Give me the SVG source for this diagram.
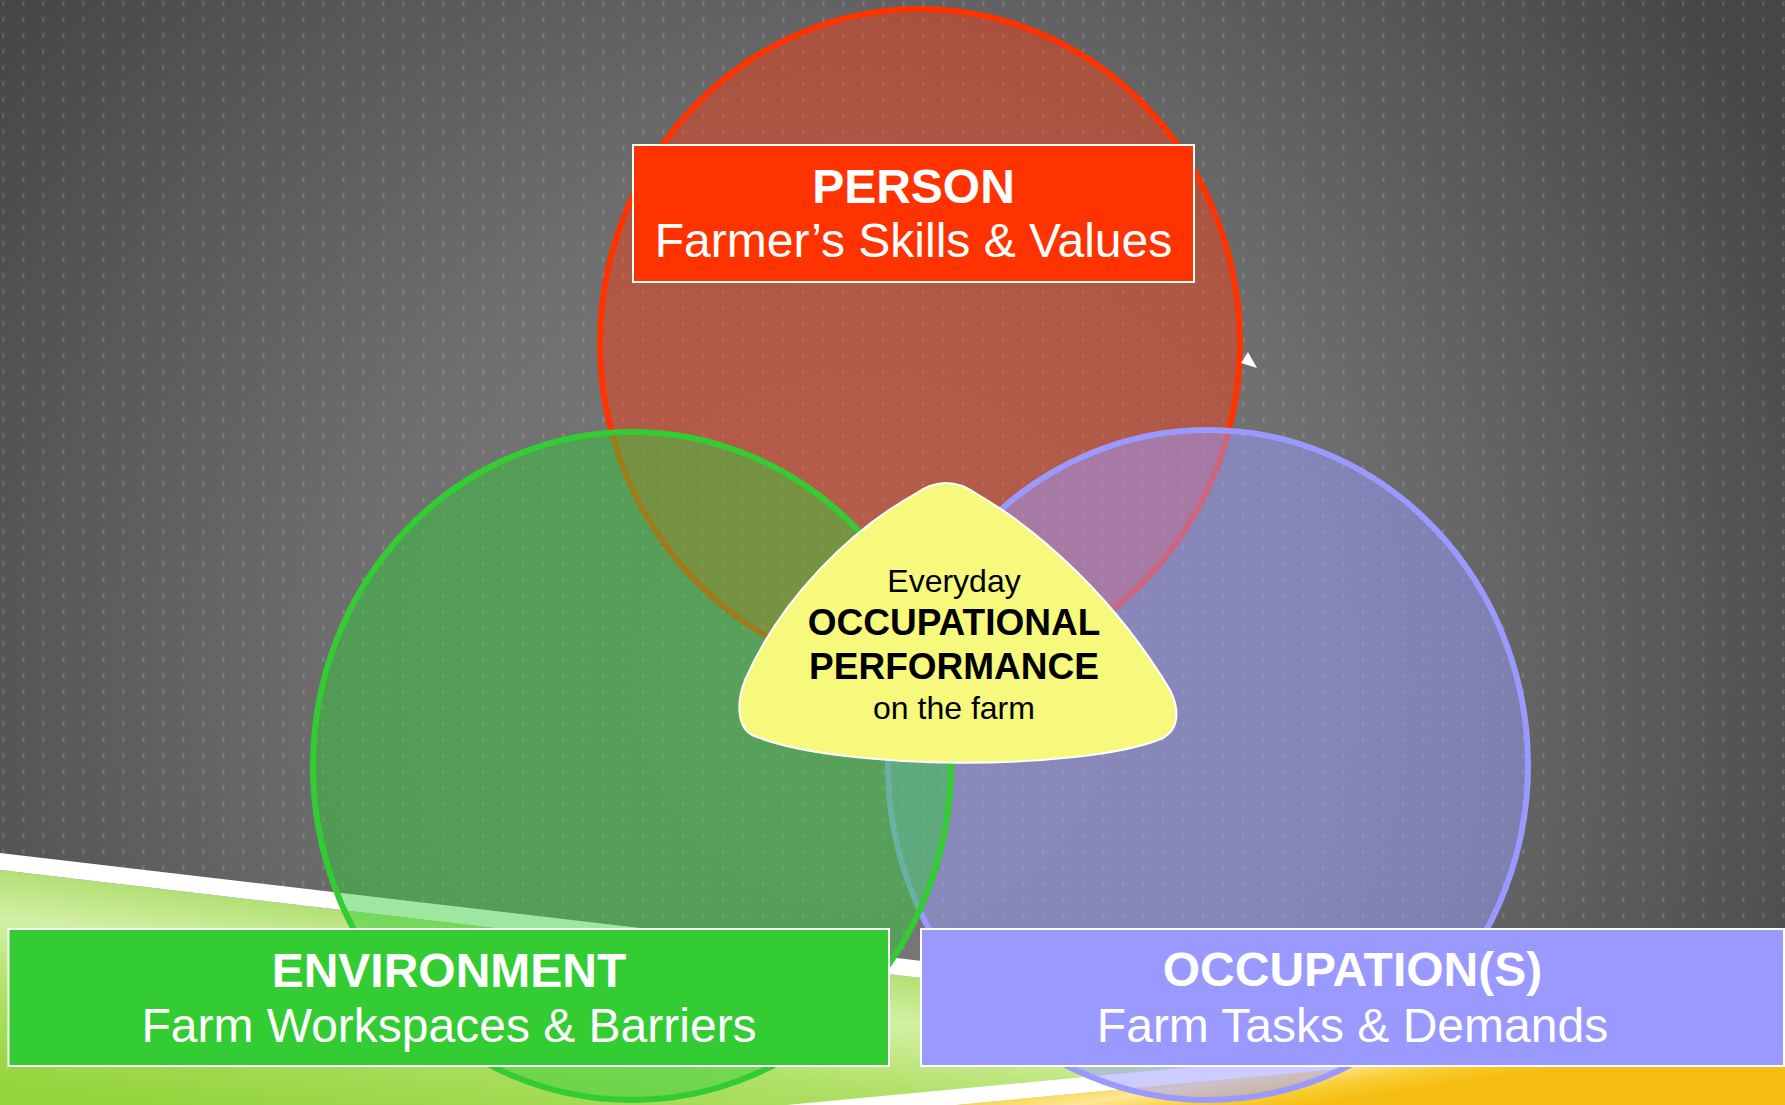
<svg xmlns="http://www.w3.org/2000/svg" width="1785" height="1105" viewBox="0 0 1785 1105">
  <defs>
    <radialGradient id="bgGrad" gradientUnits="userSpaceOnUse" cx="860" cy="680" r="1080">
      <stop offset="0" stop-color="#7c7c7c"/>
      <stop offset="0.45" stop-color="#707070"/>
      <stop offset="1" stop-color="#464646"/>
    </radialGradient>
    <pattern id="ticks" patternUnits="userSpaceOnUse" width="20" height="16">
      <rect x="2" y="1" width="2.5" height="5" fill="#ffffff" fill-opacity="0.13"/>
    </pattern>
    <linearGradient id="greenGrad" gradientUnits="userSpaceOnUse" x1="0" y1="870" x2="-25" y2="1085">
      <stop offset="0" stop-color="#b2e074"/>
      <stop offset="0.22" stop-color="#d3f0a5"/>
      <stop offset="0.55" stop-color="#b0e066"/>
      <stop offset="1" stop-color="#93d43c"/>
    </linearGradient>
    <linearGradient id="yellowGrad" gradientUnits="userSpaceOnUse" x1="1300" y1="1040" x2="1310" y2="1105">
      <stop offset="0" stop-color="#f8c41c"/>
      <stop offset="0.45" stop-color="#fee896"/>
      <stop offset="0.75" stop-color="#f9cd34"/>
      <stop offset="1" stop-color="#f6be12"/>
    </linearGradient>
    <clipPath id="grayClip">
      <polygon points="0,0 1785,0 1785,1062 0,853"/>
    </clipPath>
  </defs>
  <style>
    .ring { stroke-width: 6; }
    .box { stroke: #ffffff; stroke-width: 2; }
    .t { font-family: "Liberation Sans", Arial, sans-serif; text-anchor: middle; }
    .wb { fill: #ffffff; font-weight: bold; font-size: 48px; }
    .wr { fill: #ffffff; font-size: 48px; }
    .kb { fill: #000000; font-weight: bold; font-size: 37px; }
    .kr { fill: #000000; font-size: 32px; }
  </style>

  <!-- background -->
  <g id="background">
    <rect x="0" y="0" width="1785" height="1105" fill="url(#bgGrad)"/>
    <rect x="0" y="0" width="1785" height="1105" fill="url(#ticks)" clip-path="url(#grayClip)"/>
    <polygon points="0,870 1785,1079 1785,1105 0,1105" fill="url(#greenGrad)"/>
    <polygon points="0,853 1785,1062 1785,1079 0,870" fill="#ffffff"/>
    <polygon points="780,1105.6 1785,1011 1785,1027 956,1105" fill="#ffffff"/>
    <polygon points="956,1105 1785,1027 1785,1105" fill="url(#yellowGrad)"/>
  </g>

  <!-- circles -->
  <g id="person-circle">
    <ellipse class="ring" cx="920" cy="343" rx="320" ry="334" fill="#ff3c14" fill-opacity="0.45" stroke="#ff3300"/>
  </g>
  <g id="occupation-circle">
    <ellipse class="ring" cx="1208" cy="765" rx="320" ry="335" fill="#9999ff" fill-opacity="0.5" stroke="#9999ff"/>
  </g>
  <g id="environment-circle">
    <ellipse class="ring" cx="632" cy="766" rx="319" ry="334" fill="#33cc3a" fill-opacity="0.48" stroke="#33cc33"/>
  </g>

  <!-- connectors -->
  <g id="connectors">
    <polygon points="1248,352 1241,363 1257,368" fill="#ffffff"/>
  </g>

  <!-- center triangle -->
  <g id="performance">
    <path d="M752,735 C736,726 737,700 745,680 C780,600 850,530 915,494 Q946,472 977,494 C1042,532 1116,600 1170,690 C1180,710 1180,732 1158,740 C1080,770 840,772 752,735 Z" fill="#f6f97c" stroke="#ffffff" stroke-width="2"/>
    <text class="t kr" x="954" y="592">Everyday</text>
    <text class="t kb" x="954" y="635">OCCUPATIONAL</text>
    <text class="t kb" x="954" y="679">PERFORMANCE</text>
    <text class="t kr" x="954" y="719">on the farm</text>
  </g>

  <!-- label boxes -->
  <g id="person">
    <rect class="box" x="633" y="145" width="561" height="137" fill="#ff3300"/>
    <text class="t wb" x="913.5" y="203">PERSON</text>
    <text class="t wr" x="913.5" y="257">Farmer’s Skills &amp; Values</text>
  </g>
  <g id="environment">
    <rect class="box" x="8.5" y="929" width="880.5" height="137" fill="#33cc33"/>
    <text class="t wb" x="449" y="987">ENVIRONMENT</text>
    <text class="t wr" x="449" y="1042">Farm Workspaces &amp; Barriers</text>
  </g>
  <g id="occupation">
    <rect class="box" x="921" y="929" width="863" height="137" fill="#9999ff"/>
    <text class="t wb" x="1352.5" y="986">OCCUPATION(S)</text>
    <text class="t wr" x="1352.5" y="1042">Farm Tasks &amp; Demands</text>
  </g>
</svg>
